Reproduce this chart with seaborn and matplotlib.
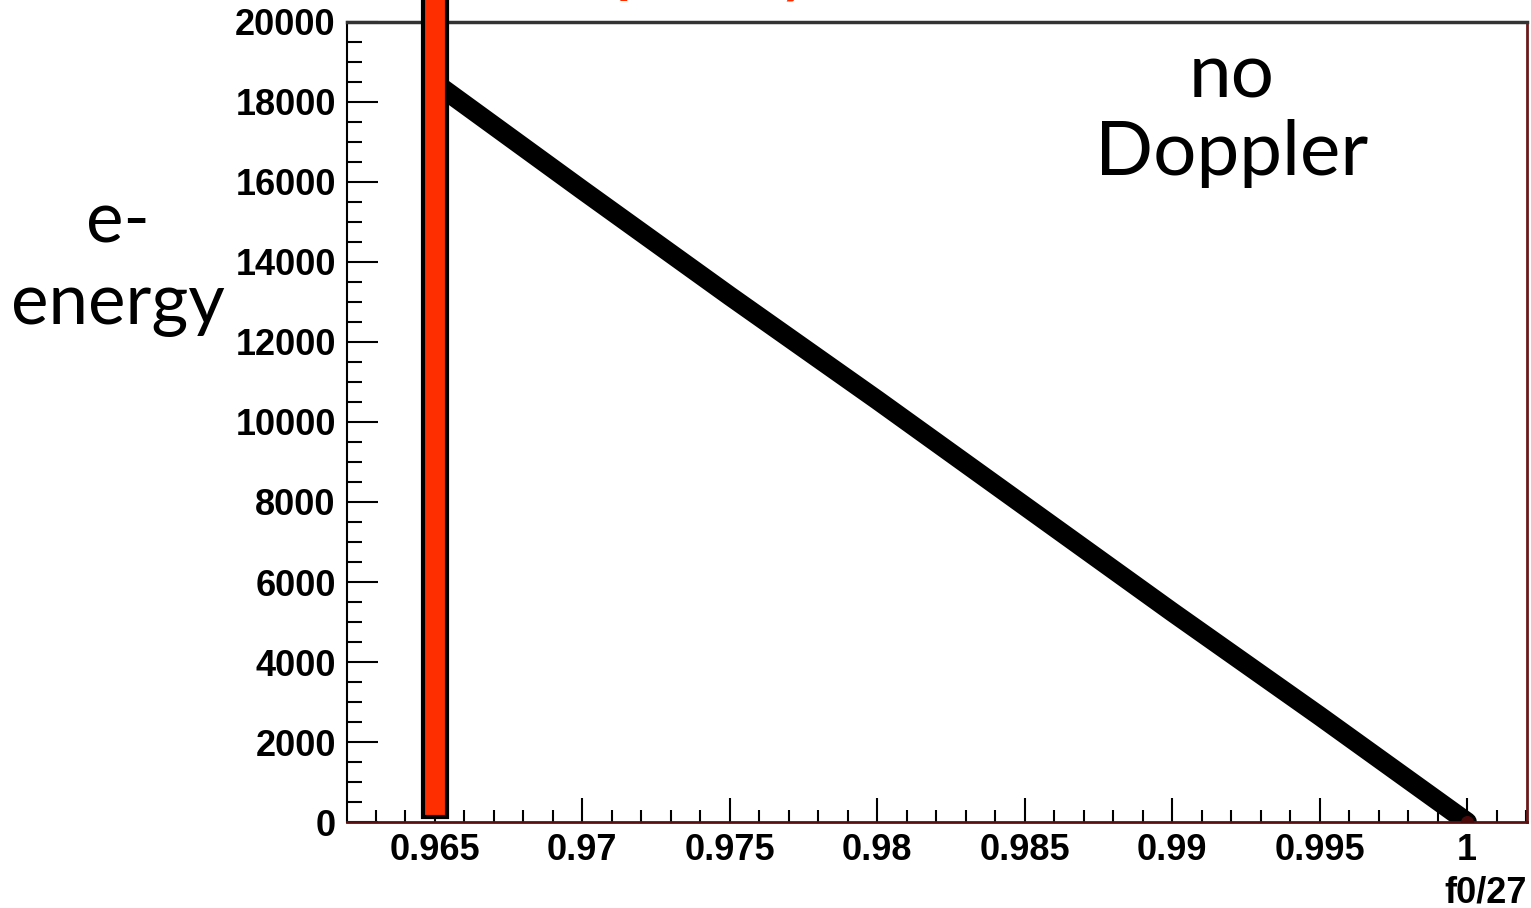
import matplotlib
matplotlib.use("Agg")
import matplotlib.pyplot as plt
from matplotlib.ticker import FixedLocator, AutoMinorLocator
import seaborn as sns
import pandas as pd

# values
f_ratio = [0.96515, 0.97, 0.975, 0.98, 0.985, 0.99, 0.995, 1.0]
e_energy = [18400, 15800, 13150, 10550, 7900, 5250, 2650, 0]

x_ticks = [0.965, 0.97, 0.975, 0.98, 0.985, 0.99, 0.995, 1.0]
x_tick_labels = ["0.965", "0.97", "0.975", "0.98", "0.985", "0.99", "0.995", "1"]
y_ticks = [0, 2000, 4000, 6000, 8000, 10000, 12000, 14000, 16000, 18000, 20000]
y_tick_labels = [str(v) for v in y_ticks]

marker_x = [0.965]
marker_bottom = [125]
marker_top = [22000]

sns.set_style("ticks")
plt.rcParams["font.family"] = ["Liberation Sans", "DejaVu Sans"]
plt.rcParams["text.color"] = "black"
plt.rcParams["xtick.color"] = "black"
plt.rcParams["ytick.color"] = "black"
plt.rcParams["axes.labelcolor"] = "black"

fig = plt.figure(figsize=(15.31, 9.08), dpi=100)
ax = fig.add_axes([0.2266, 0.0947, 0.7708, 0.8811])

df = pd.DataFrame({"f": f_ratio, "E": e_energy})
sns.lineplot(data=df, x="f", y="E", color="black", linewidth=14, ax=ax,
             solid_capstyle="round", zorder=2)
ax.scatter(f_ratio[-1:], e_energy[-1:], s=70, color="#4a0a0a", zorder=3)

# red vertical marker, runs past the top of the frame
ax.bar(marker_x, [t - b for t, b in zip(marker_top, marker_bottom)],
       bottom=marker_bottom, width=0.00082, color="#ff2e00",
       edgecolor="black", linewidth=3, zorder=4, clip_on=False)

ax.set_xlim(0.96202, 1.00203)
ax.set_ylim(0, 20000)

ax.xaxis.set_major_locator(FixedLocator(x_ticks))
ax.set_xticklabels(x_tick_labels)
ax.yaxis.set_major_locator(FixedLocator(y_ticks))
ax.set_yticklabels(y_tick_labels)
ax.xaxis.set_minor_locator(AutoMinorLocator(5))
ax.yaxis.set_minor_locator(AutoMinorLocator(4))

ax.tick_params(axis="y", which="major", direction="in", length=22, width=1.5,
               labelsize=26, pad=8)
ax.tick_params(axis="y", which="minor", direction="in", length=11, width=1.5)
ax.tick_params(axis="x", which="major", direction="in", length=17, width=1.5,
               labelsize=26, pad=8)
ax.tick_params(axis="x", which="minor", direction="in", length=9, width=1.5)
for lab in ax.get_xticklabels() + ax.get_yticklabels():
    lab.set_fontweight("bold")

ax.spines["top"].set_color("#333333")
ax.spines["top"].set_linewidth(2.5)
ax.spines["left"].set_color("black")
ax.spines["left"].set_linewidth(1.5)
ax.spines["bottom"].set_color("#5a1010")
ax.spines["bottom"].set_linewidth(2)
ax.spines["right"].set_color("#6b1a1a")
ax.spines["right"].set_linewidth(2)

ax.set_ylabel("")
ax.set_xlabel("f0/27", loc="right", fontsize=26, fontweight="bold", labelpad=5)

ax.text(0.75, 0.884, "no\nDoppler", transform=ax.transAxes, ha="center",
        va="center", fontsize=55, family=["Lato", "DejaVu Sans"],
        linespacing=1.15)
fig.text(0.077, 0.71, "e-\nenergy", ha="center", va="center", fontsize=51,
         family=["Lato", "DejaVu Sans"], linespacing=1.3)

# red caption cut off by the top edge, only descenders show
fig.text(615 / 1531, 1 + 12 / 908, "p", color="#ff2e00", fontsize=55,
         family=["Lato", "DejaVu Sans"], va="baseline", ha="left")
fig.text(776 / 1531, 1 + 12 / 908, "y", color="#ff2e00", fontsize=55,
         family=["Lato", "DejaVu Sans"], va="baseline", ha="left")

fig.savefig("out.png", dpi=100)
